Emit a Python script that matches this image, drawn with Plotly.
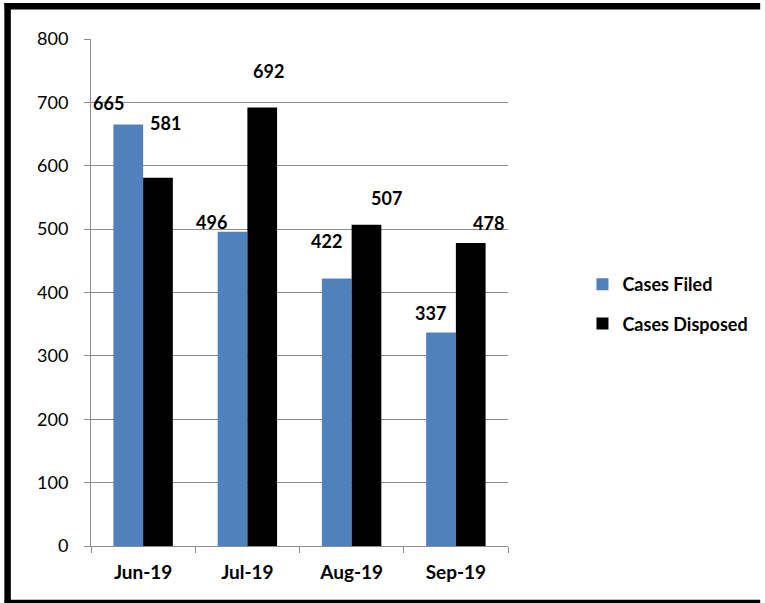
import plotly.graph_objects as go

months = ["Jun-19", "Jul-19", "Aug-19", "Sep-19"]
cases_filed = [665, 496, 422, 337]
cases_disposed = [581, 692, 507, 478]
y_ticks = [0, 100, 200, 300, 400, 500, 600, 700, 800]

# label offsets (style): px from category centre / bar top
filed_dx = [-34.5, -36, -25, -25]
filed_dy = [22, 10, 38, 19]
disp_dx = [22.5, 21, 35, 32.5]
disp_dy = [55, 36, 27, 20.5]

BLUE = "#4F81BD"
GRID = "#8c8c8c"
FONT = "Lato"

fig = go.Figure()
fig.add_trace(go.Bar(name="Cases Filed", x=months, y=cases_filed,
                     marker=dict(color=BLUE, line=dict(width=0)),
                     legendgroup="a"))
fig.add_trace(go.Bar(name="Cases Disposed", x=months, y=cases_disposed,
                     marker=dict(color="#000000", line=dict(width=0)),
                     legendgroup="b"))

for vals, dxs, dys in [(cases_filed, filed_dx, filed_dy), (cases_disposed, disp_dx, disp_dy)]:
    for m, v, dx, dy in zip(months, vals, dxs, dys):
        fig.add_annotation(x=m, y=v, text=str(v), showarrow=False,
                           xshift=dx, yshift=dy, xanchor="center", yanchor="middle",
                           font=dict(family=FONT, size=18, color="#000000", weight="bold"))

W, H = 765, 603
L, R, T, B = 91, 254, 39, 57
pw, ph = W - L - R, H - T - B

def px_x(x):
    return (x - L) / pw

def px_y(y):
    return (H - B - y) / ph

# outer frame: top, left, bottom edges (right edge lies outside the image)
frame = dict(color="#000000", width=6.5)
for x0, y0, x1, y1 in [(4, 6.3, 765, 6.3), (7, 3, 7, 606), (4, 603, 765, 603)]:
    fig.add_shape(type="line", xref="paper", yref="paper",
                  x0=px_x(x0), x1=px_x(x1), y0=px_y(y0), y1=px_y(y1),
                  line=frame, layer="above")

fig.update_layout(
    width=W, height=H,
    margin=dict(l=L, r=R, t=T, b=B),
    paper_bgcolor="white", plot_bgcolor="white",
    barmode="group", bargap=0.43, bargroupgap=0,
    font=dict(family=FONT, size=18, color="#000000"),
    legend=dict(x=px_x(586), xanchor="left", y=px_y(304), yanchor="middle",
                font=dict(family=FONT, size=18, color="#000000", weight="bold"),
                tracegroupgap=13, bgcolor="rgba(0,0,0,0)"),
    showlegend=True,
)
fig.update_xaxes(type="category", showgrid=False, showline=True, linecolor=GRID, linewidth=1,
                 ticks="outside", tickson="boundaries", ticklen=6, tickcolor=GRID,
                 tickfont=dict(family=FONT, size=19, color="#000000", weight="bold"),
                 ticklabelstandoff=9)
fig.update_yaxes(range=[0, 800], tickvals=y_ticks, showgrid=True, gridcolor=GRID, gridwidth=1,
                 zeroline=False, showline=True, linecolor=GRID, linewidth=1,
                 ticks="outside", ticklen=6, tickcolor=GRID,
                 tickfont=dict(family=FONT, size=18, color="#000000"),
                 ticklabelstandoff=12)

fig.write_html(
    "out.html", config={"displayModeBar": False},
    post_script=("document.body.style.margin='0';"
                 "document.body.style.overflow='hidden';"
                 "document.documentElement.style.overflow='hidden';"))
